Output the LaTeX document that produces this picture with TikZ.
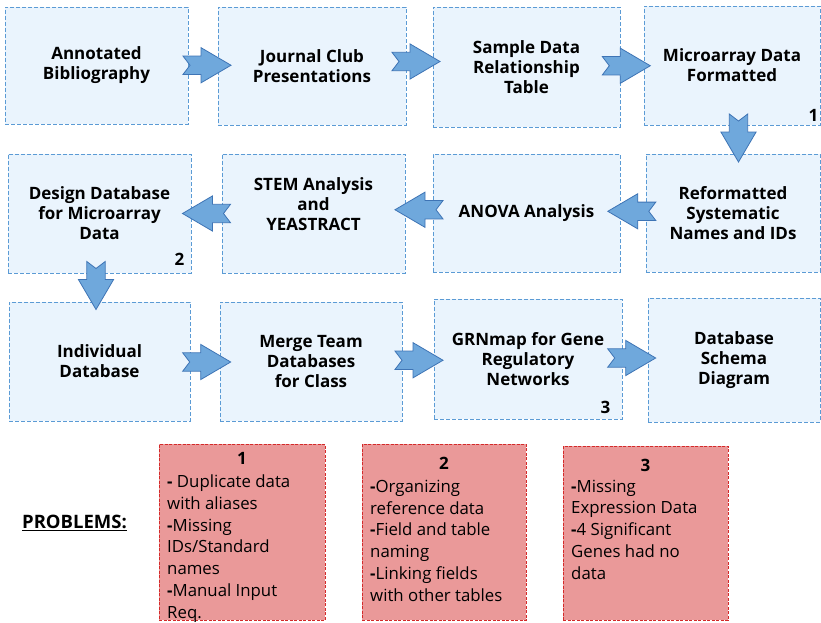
\documentclass[tikz,border=0pt]{standalone}
\usepackage{fontspec}
\setmainfont{Open Sans}
\usetikzlibrary{calc}
\definecolor{boxfill}{HTML}{EAF4FD}
\definecolor{boxline}{HTML}{5B9BD5}
\definecolor{arrfill}{HTML}{6FA8DC}
\definecolor{arrline}{HTML}{3E74B5}
\definecolor{probfill}{HTML}{EA9999}
\definecolor{probline}{HTML}{D42A2A}
\tikzset{
  stepbox/.style={draw=boxline, fill=boxfill, dash pattern=on 4pt off 2pt, line width=0.8pt,
    align=center, inner sep=0pt, font=\bfseries\fontsize{17}{20}\selectfont},
  boxtext/.style={align=center, inner sep=0pt, font=\bfseries\fontsize{17}{20}\selectfont},
  probbox/.style={draw=probline, fill=probfill, dash pattern=on 3pt off 1.5pt, line width=0.8pt, inner sep=0pt},
  probtitle/.style={inner sep=0pt, anchor=base, font=\bfseries\fontsize{17}{21.7}\selectfont},
  probtext/.style={inner sep=0pt, anchor=base west, align=left, font=\fontsize{16.8}{21.7}\selectfont},
  numlabel/.style={inner sep=0pt, font=\bfseries\fontsize{17}{20}\selectfont},
  pics/notch/.style={code={
    \draw[draw=arrline, fill=arrfill, line width=0.8pt, line join=miter]
      (-24,-9.2) -- (-6,-9.2) -- (-6,-17.6) -- (24,0) -- (-6,17.6) -- (-6,9.2) -- (-24,9.2) -- (-17,0) -- cycle;
  }}
}
\newcommand\stepnode[6]{\node[stepbox, minimum width={#4-#2}, minimum height={#5-#3}] (#1) at ({(#2+#4)/2},{(#3+#5)/2}) {#6};}
\newcommand\probnode[5]{\node[probbox, minimum width={#4-#2}, minimum height={#5-#3}] (#1) at ({(#2+#4)/2},{(#3+#5)/2}) {};}
\begin{document}
\begin{tikzpicture}[x=1pt, y=-1pt]
\useasboundingbox (0,0) rectangle (821,623);
% row 1
\stepnode{b1}{5}{7}{188}{124}{Annotated\\Bibliography}
\stepnode{b2}{218}{7}{406}{125}{Journal Club\\Presentations}
\stepnode{b3}{433}{7}{620}{127}{Sample Data\\Relationship\\Table}
\stepnode{b4}{644}{6}{820}{125}{Microarray Data\\Formatted}
% row 2
\stepnode{b5}{8}{154}{191}{273}{Design Database\\for Microarray\\Data}
\stepnode{b6}{222}{154}{405}{273}{}
\node[boxtext] (t6) at ($(b6.center)+(0,-9)$) {STEM Analysis\\and\\YEASTRACT};
\stepnode{b7}{433}{154}{620}{272}{ANOVA Analysis}
\stepnode{b8}{646}{154}{820}{272}{Reformatted\\Systematic\\Names and IDs}
% row 3
\stepnode{b9}{9}{302}{190}{421}{Individual\\Database}
\stepnode{b10}{220}{302}{402}{421}{Merge Team\\Databases\\for Class}
\stepnode{b11}{434}{299}{622}{419}{GRNmap for Gene\\Regulatory\\Networks}
\stepnode{b12}{648}{298}{820}{422}{Database\\Schema\\Diagram}
% number marks
\node[numlabel] (n1) at ($(b4.south east)+(-7,-10)$) {1};
\node[numlabel] (n2) at ($(b5.south east)+(-12,-14)$) {2};
\node[numlabel] (n3) at ($(b11.south east)+(-17,-12)$) {3};
% arrows
\pic at ($(b1.east)!0.5!(b2.west)+(4,-0.5)$) {notch};
\pic at ($(b2.east)!0.5!(b3.west)+(-3.5,-5)$) {notch};
\pic at ($(b3.east)!0.5!(b4.west)+(-5.7,-0.5)$) {notch};
\pic[rotate=-90] at ($(b4.south)!0.5!(b8.north)+(6,-1.5)$) {notch};
\pic[rotate=180] at ($(b8.west)!0.5!(b7.east)+(-1.2,-1.7)$) {notch};
\pic[rotate=180] at ($(b7.west)!0.5!(b6.east)+(0,-3.5)$) {notch};
\pic[rotate=180] at ($(b6.west)!0.5!(b5.east)+(0,0)$) {notch};
\pic[rotate=-90] at ($(b5.south)!0.5!(b9.north)+(-3.5,-2)$) {notch};
\pic at ($(b9.east)!0.5!(b10.west)+(1.7,0.5)$) {notch};
\pic at ($(b10.east)!0.5!(b11.west)+(1,0)$) {notch};
\pic at ($(b11.east)!0.5!(b12.west)+(-3.3,-1.5)$) {notch};
% problems
\node[inner sep=0pt, font=\bfseries\fontsize{18.5}{20}\selectfont] (probs) at (74.5,523) {\underline{PROBLEMS:}};
\probnode{p1}{159}{444}{325}{620}
\probnode{p2}{362}{444}{526}{620}
\probnode{p3}{563}{446}{728}{620}
\node[probtitle] (p1t) at (p1.center |- 0,464) {1};
\node[probtitle] (p2t) at (p2.center |- 0,469) {2};
\node[probtitle] (p3t) at (p3.center |- 0,471) {3};
% these nodes are anchored at the baseline of their last line
\node[probtext] (p1x) at (167,618) {{\bfseries-} Duplicate data\\with aliases\\{\bfseries-}Missing\\IDs/Standard\\names\\{\bfseries-}Manual Input\\Req.};
\node[probtext] (p2x) at (370,601) {{\bfseries-}Organizing\\reference data\\{\bfseries-}Field and table\\naming\\{\bfseries-}Linking fields\\with other tables};
\node[probtext] (p3x) at (571,579) {{\bfseries-}Missing\\Expression Data\\{\bfseries-}4 Significant\\Genes had no\\data};
\end{tikzpicture}
\end{document}
